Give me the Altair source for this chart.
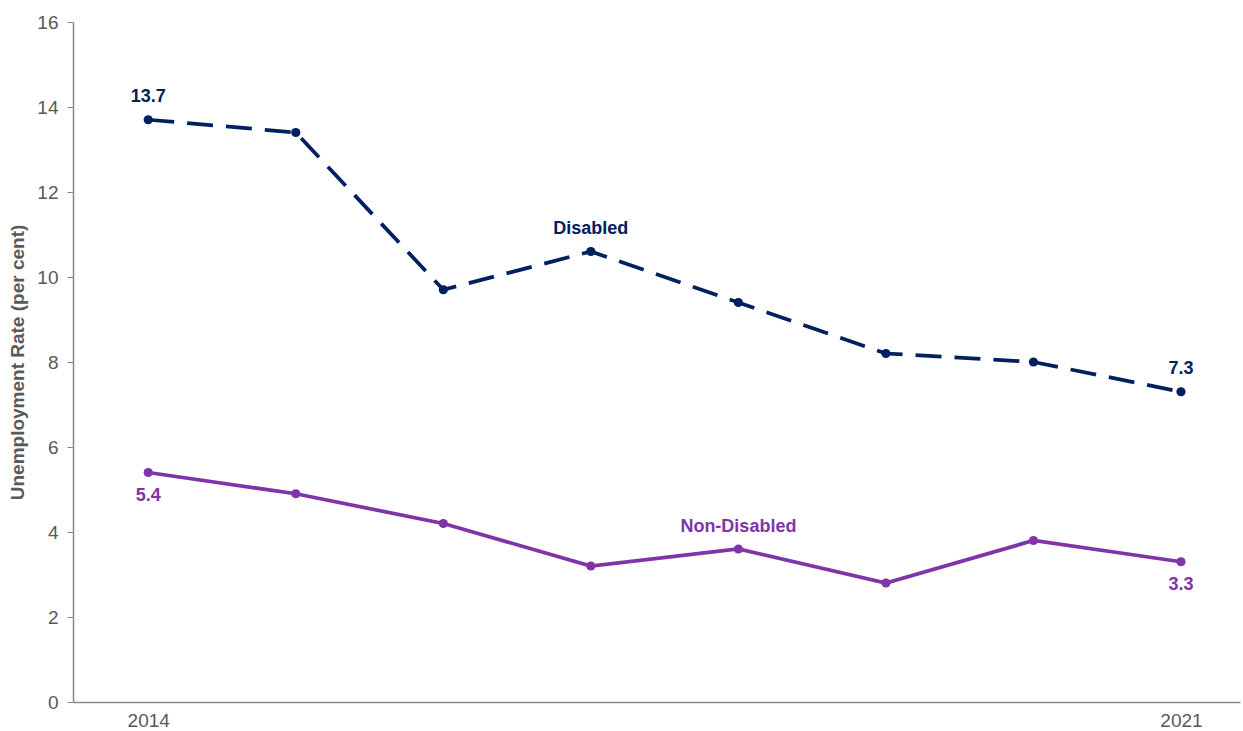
import altair as alt
import pandas as pd

years = [2014, 2015, 2016, 2017, 2018, 2019, 2020, 2021]
disabled = [13.7, 13.4, 9.7, 10.6, 9.4, 8.2, 8.0, 7.3]
non_disabled = [5.4, 4.9, 4.2, 3.2, 3.6, 2.8, 3.8, 3.3]

navy = "#002060"
purple = "#7F35A8"
font = "Liberation Sans"

df_d = pd.DataFrame({"year": years, "value": disabled})
df_n = pd.DataFrame({"year": years, "value": non_disabled})

# annotation labels
lab_d = pd.DataFrame({
    "year": [2014, 2021, 2017],
    "value": [13.7, 7.3, 10.6],
    "text": ["13.7", "7.3", "Disabled"],
})
lab_n_above = pd.DataFrame({
    "year": [2018],
    "value": [3.6],
    "text": ["Non-Disabled"],
})
lab_n_below = pd.DataFrame({
    "year": [2014, 2021],
    "value": [5.4, 3.3],
    "text": ["5.4", "3.3"],
})

x = alt.X("year:Q",
          scale=alt.Scale(domain=[2013.49, 2021.4], nice=False, zero=False),
          axis=alt.Axis(values=[2014, 2021], format="d", ticks=False, grid=False,
                        title=None, labelFontSize=19, labelColor="#595959",
                        labelFont=font, labelPadding=9,
                        domainColor="#898989", domainWidth=1.5))
y = alt.Y("value:Q",
          scale=alt.Scale(domain=[0, 16], nice=False),
          axis=alt.Axis(values=list(range(0, 17, 2)), grid=False,
                        title="Unemployment Rate (per cent)",
                        titleFont=font, titleFontSize=19, titleFontWeight="bold",
                        titleColor="#595959", titlePadding=9,
                        labelFontSize=19, labelColor="#595959", labelFont=font,
                        labelPadding=9, tickSize=6, tickColor="#898989",
                        domainColor="#898989", domainWidth=1.5))

line_d = alt.Chart(df_d).mark_line(color=navy, strokeWidth=3.75, strokeDash=[26, 13]).encode(x=x, y=y)
pts_d = alt.Chart(df_d).mark_circle(color=navy, size=85, opacity=1).encode(x=x, y=y)
line_n = alt.Chart(df_n).mark_line(color=purple, strokeWidth=3.75).encode(x=x, y=y)
pts_n = alt.Chart(df_n).mark_circle(color=purple, size=85, opacity=1).encode(x=x, y=y)

txt_d = alt.Chart(lab_d).mark_text(color=navy, font=font, fontSize=18, fontWeight="bold",
                                   dy=-23, baseline="middle", align="center").encode(
    x=x, y=y, text="text:N")
txt_na = alt.Chart(lab_n_above).mark_text(color=purple, font=font, fontSize=18, fontWeight="bold",
                                          dy=-22, baseline="middle", align="center").encode(
    x=x, y=y, text="text:N")
txt_nb = alt.Chart(lab_n_below).mark_text(color=purple, font=font, fontSize=18, fontWeight="bold",
                                          dy=23, baseline="middle", align="center").encode(
    x=x, y=y, text="text:N")

chart = alt.layer(line_d, line_n, pts_d, pts_n, txt_d, txt_na, txt_nb).properties(
    width=1167, height=680,
    background="white",
    autosize=alt.AutoSizeParams(type="none"),
    padding={"left": 73, "top": 22, "right": 3, "bottom": 29},
).configure_view(stroke=None, strokeWidth=0)

chart.save("out.html", embed_options={"renderer": "svg", "actions": False})
